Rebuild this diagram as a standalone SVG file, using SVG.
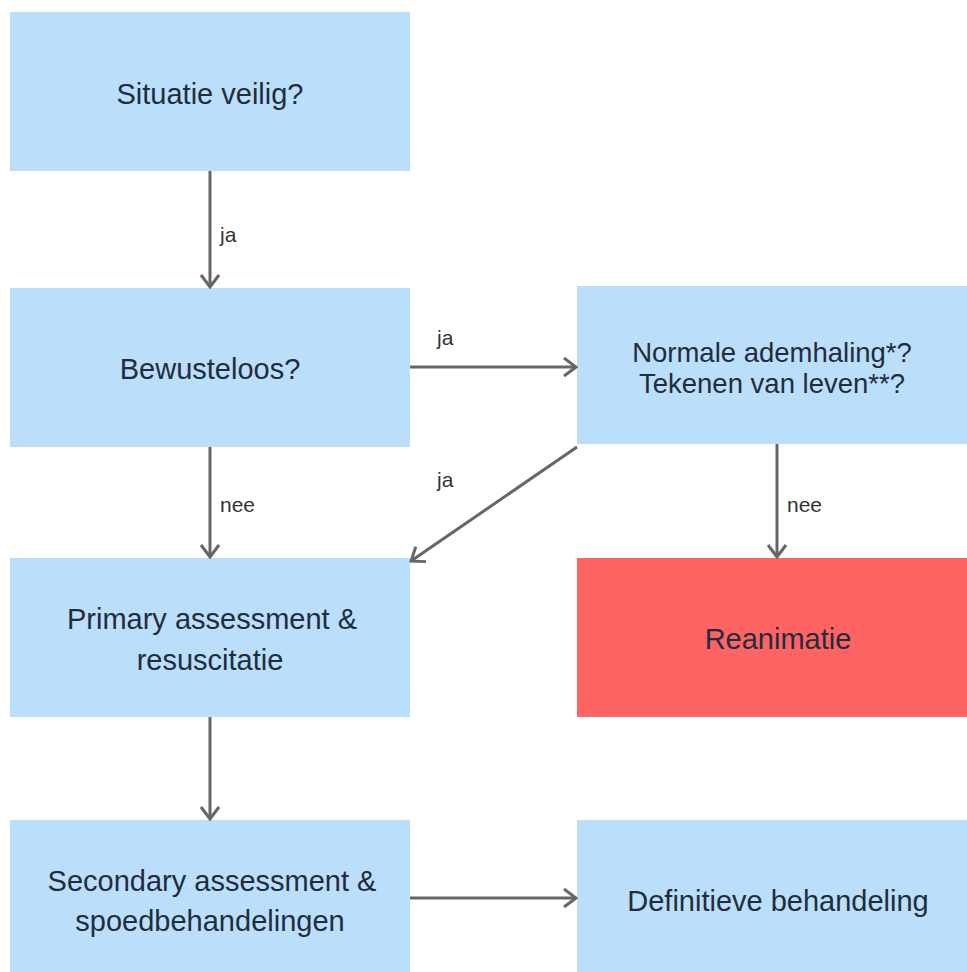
<svg xmlns="http://www.w3.org/2000/svg" width="967" height="972" viewBox="0 0 967 972">
  <style>
    .box { fill: #bbdefb; }
    .alert { fill: #ff6464; }
    .label { font-family: "Liberation Sans", Arial, sans-serif; font-size: 29px; fill: #1f2d3d; text-anchor: middle; }
    .label.compact { font-size: 27.5px; }
    .edge { stroke: #666666; stroke-width: 3; fill: none; }
    .edge-label { font-family: "Liberation Sans", Arial, sans-serif; font-size: 21px; fill: #333333; }
  </style>
  <defs>
    <marker id="arrow" viewBox="0 0 16 20" refX="14" refY="10" markerWidth="16" markerHeight="20" markerUnits="userSpaceOnUse" orient="auto">
      <path d="M2,1 L14,10 L2,19" fill="none" stroke="#666666" stroke-width="3"/>
    </marker>
  </defs>
  <rect width="967" height="972" fill="#ffffff"/>

  <g id="situatie">
    <rect class="box" x="10" y="12" width="400" height="159"/>
    <text class="label" x="210" y="104">Situatie veilig?</text>
  </g>
  <g id="bewusteloos">
    <rect class="box" x="10" y="288" width="400" height="159"/>
    <text class="label" x="210" y="379">Bewusteloos?</text>
  </g>
  <g id="ademhaling">
    <rect class="box" x="577" y="286" width="390" height="158"/>
    <text class="label compact" x="772" y="362">Normale ademhaling*?</text>
    <text class="label compact" x="772" y="393">Tekenen van leven**?</text>
  </g>
  <g id="primary">
    <rect class="box" x="10" y="558" width="400" height="159"/>
    <text class="label" x="212" y="629">Primary assessment &amp;</text>
    <text class="label" x="210" y="670">resuscitatie</text>
  </g>
  <g id="reanimatie">
    <rect class="alert" x="577" y="558" width="390" height="159"/>
    <text class="label" x="778" y="649">Reanimatie</text>
  </g>
  <g id="secondary">
    <rect class="box" x="10" y="820" width="400" height="152"/>
    <text class="label" x="212" y="891">Secondary assessment &amp;</text>
    <text class="label" x="210" y="931">spoedbehandelingen</text>
  </g>
  <g id="definitief">
    <rect class="box" x="577" y="820" width="390" height="152"/>
    <text class="label" x="778" y="911">Definitieve behandeling</text>
  </g>

  <g id="connectors">
    <line class="edge" x1="210" y1="171" x2="210" y2="287" marker-end="url(#arrow)"/>
    <text class="edge-label" x="220" y="242">ja</text>

    <line class="edge" x1="410" y1="367" x2="576" y2="367" marker-end="url(#arrow)"/>
    <text class="edge-label" x="437" y="345">ja</text>

    <line class="edge" x1="210" y1="447" x2="210" y2="557" marker-end="url(#arrow)"/>
    <text class="edge-label" x="220" y="512">nee</text>

    <line class="edge" x1="577" y1="447" x2="411" y2="561" marker-end="url(#arrow)"/>
    <text class="edge-label" x="437" y="487">ja</text>

    <line class="edge" x1="777" y1="444" x2="777" y2="557" marker-end="url(#arrow)"/>
    <text class="edge-label" x="787" y="512">nee</text>

    <line class="edge" x1="210" y1="717" x2="210" y2="819" marker-end="url(#arrow)"/>

    <line class="edge" x1="410" y1="898" x2="576" y2="898" marker-end="url(#arrow)"/>
  </g>
</svg>
